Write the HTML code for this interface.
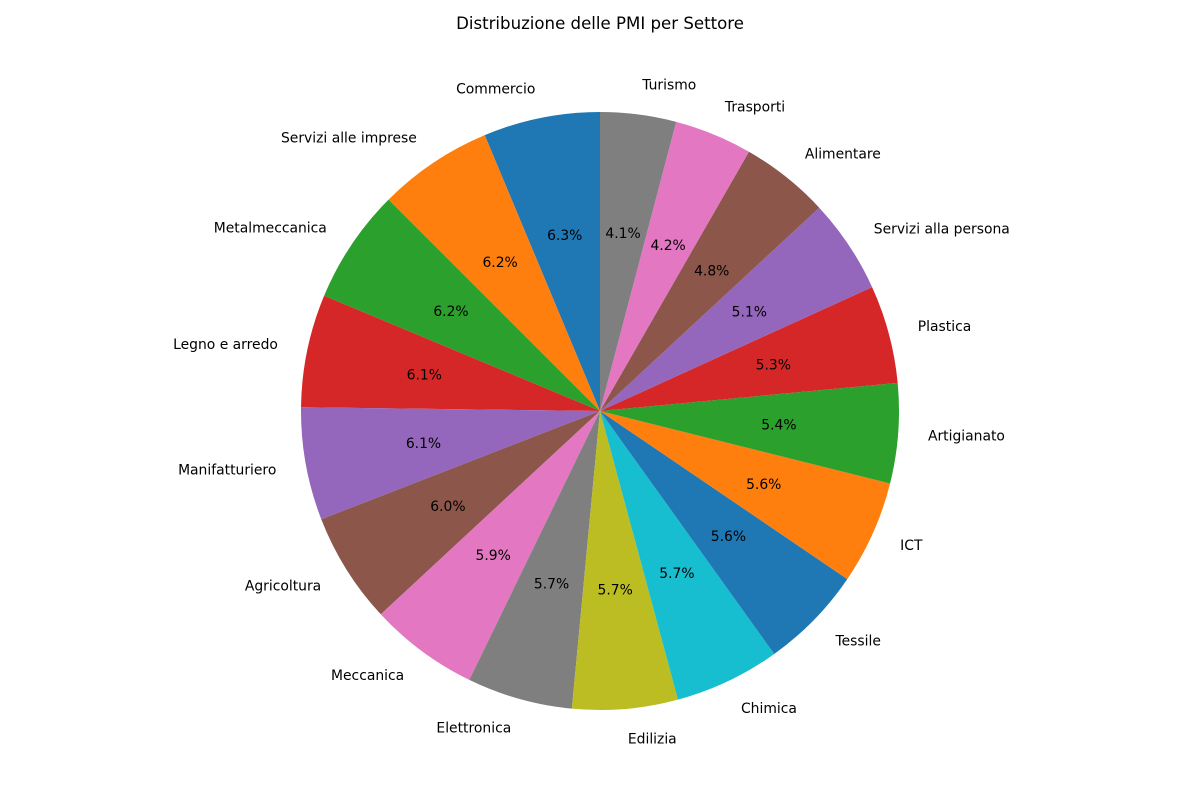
<!DOCTYPE html>
<html><head><meta charset="utf-8"><style>
body{margin:0;background:#fff}
svg{display:block;font-family:"DejaVu Sans","Liberation Sans",sans-serif}
</style></head><body>
<svg id="chart" width="1200" height="800">
<text x="600" y="29" text-anchor="middle" font-size="16.6">Distribuzione delle PMI per Settore</text>
<g id="slices"></g><g id="labels"></g>
</svg>
<script>
const categories=["Commercio","Servizi alle imprese","Metalmeccanica","Legno e arredo","Manifatturiero","Agricoltura","Meccanica","Elettronica","Edilizia","Chimica","Tessile","ICT","Artigianato","Plastica","Servizi alla persona","Alimentare","Trasporti","Turismo"];
const values=[6.3,6.2,6.2,6.1,6.1,6.0,5.9,5.7,5.7,5.7,5.6,5.6,5.4,5.3,5.1,4.8,4.2,4.1];
const colors=["#1f77b4","#ff7f0e","#2ca02c","#d62728","#9467bd","#8c564b","#e377c2","#7f7f7f","#bcbd22","#17becf"];
const cx=600,cy=411,R=299;
const NS="http://www.w3.org/2000/svg";
const total=values.reduce((a,b)=>a+b,0);
const gs=document.getElementById('slices'),gl=document.getElementById('labels');
let a=90;
function pt(deg,r){const t=deg*Math.PI/180;return [cx+r*Math.cos(t),cy-r*Math.sin(t)];}
values.forEach((v,i)=>{
  const span=v/total*360,a2=a+span;
  const [x1,y1]=pt(a,R),[x2,y2]=pt(a2,R);
  const p=document.createElementNS(NS,'path');
  p.setAttribute('d',`M${cx},${cy}L${x1},${y1}A${R},${R} 0 ${span>180?1:0} 0 ${x2},${y2}Z`);
  p.setAttribute('fill',colors[i%10]);
  
  
  gs.appendChild(p);
  const m=a+span/2;
  const [lx,ly]=pt(m,R*1.1);
  const t=document.createElementNS(NS,'text');
  t.setAttribute('x',lx);t.setAttribute('y',ly+4.8);
  t.setAttribute('font-size','13.9');
  t.setAttribute('text-anchor',Math.cos(m*Math.PI/180)>=0?'start':'end');
  t.textContent=categories[i];
  
  
  gl.appendChild(t);
  const [px,py]=pt(m,R*0.6);
  const q=document.createElementNS(NS,'text');
  q.setAttribute('x',px);q.setAttribute('y',py+4.8);
  q.setAttribute('font-size','13.9');q.setAttribute('text-anchor','middle');
  q.textContent=(v/total*100).toFixed(1)+'%';
  
  
  gl.appendChild(q);
  a=a2;
});
</script>
</body></html>
